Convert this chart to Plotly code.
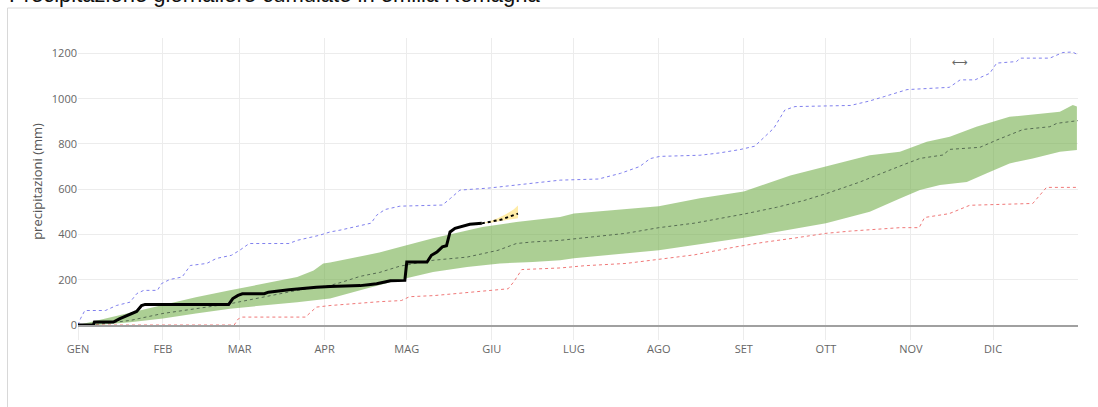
import plotly.graph_objects as go

# Day-of-year month starts and Italian month labels
month_days = [0, 31, 59, 90, 120, 151, 181, 212, 243, 273, 304, 334]
month_labels = ["GEN", "FEB", "MAR", "APR", "MAG", "GIU", "LUG", "AGO", "SET", "OTT", "NOV", "DIC"]

# Cumulated precipitation (mm) as (day, value) pairs
observed = [(0, 0), (5.6, 0), (6, 13), (12.9, 13), (15.3, 28), (17.8, 42), (20.2, 52), (21.4, 60),
            (23.2, 86), (24.5, 91), (55, 91), (56.5, 117), (58.4, 131), (60, 138), (68, 138),
            (69.5, 145), (77, 156), (80, 160), (83.5, 165), (87, 167), (92, 170), (96, 171),
            (103, 174), (106, 178), (109, 182), (112, 190), (114, 195), (119.3, 197), (120, 278),
            (127.4, 278), (129, 308), (131, 322), (133, 345), (134.5, 350), (135.8, 411),
            (137.6, 427), (140, 436), (143, 445), (147.4, 449)]

forecast = [(147.4, 449), (152, 460), (154.6, 466), (157, 477), (159.5, 486), (160.6, 492)]
forecast_high = [(147.4, 449), (150, 457), (153, 470), (156, 488), (159, 510), (160.6, 528)]
forecast_low = [(147.4, 449), (150, 451), (153, 456), (156, 462), (159, 469), (160.6, 472)]

maximum = [(0, 0), (1, 30), (2.5, 64), (10, 64), (14, 86), (19, 101), (21.5, 139), (24, 153),
           (29, 153), (30.5, 183), (33.5, 201), (38, 212), (41, 263), (47, 272), (50.5, 294),
           (56, 308), (59, 330), (62.5, 360), (77, 360), (80, 374), (88, 396), (92, 411),
           (96, 420), (104, 440), (107, 450), (109, 485), (112, 510), (117.5, 525), (133, 530),
           (136, 560), (139.4, 596), (150, 605), (163.7, 625), (176, 640), (190, 645),
           (198, 670), (205, 700), (208.8, 735), (212.4, 745), (227, 750), (234, 760),
           (241.6, 775), (247, 790), (250.7, 830), (254, 870), (258, 950), (261.7, 965),
           (282, 970), (289, 990), (294.5, 1010), (300, 1031), (302.6, 1040), (318, 1050),
           (322, 1083), (327.4, 1083), (332.8, 1112), (335.3, 1157), (342.6, 1164),
           (343.8, 1179), (354.7, 1179), (359.5, 1204), (363, 1206), (365, 1194)]

minimum = [(0, 0), (57, 0), (58.5, 27), (60, 35), (83, 35), (87, 79), (92, 86), (100, 95),
           (110, 103), (118, 108), (121, 125), (130, 130), (140, 140), (150, 150), (157, 160),
           (159, 190), (162, 245), (176, 252), (185, 262), (200, 272), (212, 290), (225, 310),
           (240, 345), (250, 365), (262, 385), (273, 405), (282, 415), (293, 425), (300, 430),
           (307, 430), (309, 475), (318, 492), (324, 522), (325.5, 529), (348.5, 537),
           (353.5, 608), (365, 608)]

median = [(0, 0), (7, 3), (19, 20), (31, 51), (43, 72), (55.5, 94), (67.5, 123), (80, 153),
          (92, 175), (96, 188), (103, 215), (110, 232), (117.5, 260), (129.6, 286), (142, 300),
          (153.3, 330), (160, 360), (166, 367), (176, 374), (181, 380), (190, 390), (200, 405),
          (212, 430), (225, 450), (243, 490), (255, 520), (265, 550), (273, 580), (285, 630),
          (295, 680), (300, 702), (307.3, 736), (315.7, 751), (318.2, 776), (329.2, 785),
          (335.3, 817), (345, 864), (354.7, 876), (357.3, 891), (365, 903)]

band_high = [(0, 0), (7, 20), (19, 51), (31, 86), (43, 123), (55.5, 153), (67.5, 183), (80, 212),
             (86, 241), (89.5, 272), (92, 276), (100, 295), (110, 320), (117.5, 345),
             (129.6, 383), (142, 418), (147.6, 433), (160, 455), (176, 477), (181, 493),
             (198, 510), (212, 525), (227, 560), (243, 590), (260, 660), (273, 700), (289, 750),
             (300, 765), (309.8, 810), (318.2, 832), (327.9, 876), (340, 920), (351, 935),
             (358.4, 942), (363.1, 972), (364.6, 965)]

band_low = [(0, 0), (7, 0), (19, 12), (31, 29), (43, 51), (55.5, 72), (67.5, 86), (80, 101),
            (92, 117), (105, 160), (117.5, 200), (129.6, 234), (142, 256), (154, 272), (166, 278),
            (176, 286), (181, 295), (212, 330), (243, 385), (273, 450), (289, 500), (300, 559),
            (307.3, 596), (314.6, 618), (324.4, 632), (331.7, 670), (340, 714), (348.5, 736),
            (358.4, 765), (364.6, 773)]


def xs(pairs):
    return [p[0] for p in pairs]


def ys(pairs):
    return [p[1] for p in pairs]


fig = go.Figure()

# Percentile band as a closed polygon
fig.add_trace(go.Scatter(
    x=xs(band_high) + xs(band_low)[::-1],
    y=ys(band_high) + ys(band_low)[::-1],
    fill="toself", fillcolor="rgba(112,173,71,0.58)",
    line=dict(width=0), mode="lines", hoverinfo="skip"))

fig.add_trace(go.Scatter(x=xs(median), y=ys(median), mode="lines",
                         line=dict(color="rgba(70,90,70,0.85)", width=1, dash="dot")))
fig.add_trace(go.Scatter(x=xs(minimum), y=ys(minimum), mode="lines",
                         line=dict(color="rgb(240,120,120)", width=1, dash="dot")))
fig.add_trace(go.Scatter(x=xs(maximum), y=ys(maximum), mode="lines",
                         line=dict(color="rgb(128,128,238)", width=1, dash="dot")))

# Forecast spread and forecast line
fig.add_trace(go.Scatter(
    x=xs(forecast_high) + xs(forecast_low)[::-1],
    y=ys(forecast_high) + ys(forecast_low)[::-1],
    fill="toself", fillcolor="rgba(255,218,80,0.5)",
    line=dict(width=0), mode="lines", hoverinfo="skip"))
fig.add_trace(go.Scatter(x=xs(forecast), y=ys(forecast), mode="lines",
                         line=dict(color="black", width=2, dash="dot")))

# Observed cumulated precipitation
fig.add_trace(go.Scatter(x=xs(observed), y=ys(observed), mode="lines",
                         line=dict(color="black", width=3)))

grid = "#ececec"
fig.update_layout(
    width=1098, height=407,
    margin=dict(l=78, r=20, t=38, b=82),
    paper_bgcolor="white", plot_bgcolor="white",
    showlegend=False,
    font=dict(family="Open Sans, Verdana, sans-serif", size=11, color="#666"),
    xaxis=dict(
        range=[0, 365], tickmode="array", tickvals=month_days, ticktext=month_labels,
        showgrid=True, gridcolor=grid, gridwidth=1,
        ticks="outside", ticklen=13, tickcolor=grid, tickwidth=1,
        showline=True, linecolor="#a0a0a0", linewidth=1.5,
        zeroline=False, tickfont=dict(size=11, color="#666")),
    yaxis=dict(
        range=[0, 1268], tickvals=[0, 200, 400, 600, 800, 1000, 1200],
        showgrid=True, gridcolor=grid, gridwidth=1,
        zeroline=False, showline=False, ticks="",
        tickfont=dict(size=11, color="#666"),
        title=dict(text="precipitazioni (mm)", font=dict(size=13, color="#555"), standoff=6)),
)

# Container frame
fig.add_shape(type="rect", xref="paper", yref="paper",
              x0=-0.0705, x1=1.03, y0=-0.35, y1=1.1045,
              line=dict(color="#d8d8d8", width=1), fillcolor="rgba(0,0,0,0)", layer="below")

# Page title, partly cut by the top edge
fig.add_annotation(text="Precipitazione giornaliere cumulate in emilia Romagna",
                   xref="paper", yref="paper", x=-0.071, y=1.10,
                   xanchor="left", yanchor="bottom", showarrow=False,
                   font=dict(family="Liberation Sans, Arial, sans-serif", size=22, color="#111"))

# Cursor glyph
fig.add_annotation(text="⟷", x=322, y=1160, xref="x", yref="y", showarrow=False,
                   font=dict(family="DejaVu Sans", size=11, color="#666"))

fig.write_html("out.html")
